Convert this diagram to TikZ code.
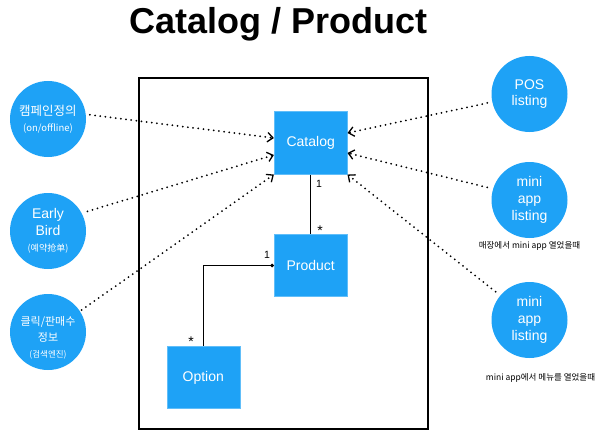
\documentclass[tikz,border=0pt]{standalone}
\usepackage{fontspec}
\setmainfont{Liberation Sans}
\newfontfamily\kr{Noto Sans CJK KR}
\usetikzlibrary{arrows.meta,calc}
\definecolor{fillblue}{RGB}{30,162,246}
\newcommand\fsz[2]{\fontsize{#1}{#2}\selectfont}
\begin{document}
\begin{tikzpicture}[x=1pt,y=-1pt,
  box/.style={draw=fillblue!70!white, line width=0.6pt, fill=fillblue, minimum width=73pt, minimum height=62.5pt, inner sep=0pt, text=white, font=\fsz{14}{17}},
  circ/.style={circle, fill=fillblue, minimum size=76pt, inner sep=0pt, text=white, align=center},
  dep/.style={line width=2pt, dash pattern=on 0pt off 5.2pt, line cap=round,
    -{Straight Barb[line width=1.3pt, length=5.5pt, width=9.5pt, sep=0pt]}},
  assoc/.style={line width=1pt, black},
  mult/.style={font=\fsz{10.5}{11}, inner sep=0pt},
  star/.style={font=\fsz{14}{14}, inner sep=0pt},
  caption/.style={font=\kr\fsz{8.5}{10}, inner sep=0pt}
]
\useasboundingbox (0,0) rectangle (600,436);

% title
\node[font=\bfseries\fsz{36}{40}] (title) at (278.5,24) {Catalog / Product};

% frame
\node[draw, line width=2pt, minimum width=288.4pt, minimum height=350.7pt, inner sep=0pt] (frame) at (283.5,253.65) {};

% classes
\node[box] (cat) at (310.7,143) {Catalog};
\node[box] (prod) at (310.7,265.5) {Product};
\node[box] (opt) at (203.3,377.5) {Option};

% associations
\draw[assoc] (cat.south) -- (prod.north);
\draw[assoc, -{Circle[length=3.5pt]}] (opt.north) |- (prod.west);
\node[mult] (m1) at (319,184) {1};
\node[star] (m2) at (320,231) {*};
\node[mult] (m3) at (267,255) {1};
\node[star] (m4) at (191,342) {*};

% left sources
\node[circ, font=\kr\fsz{12.5}{17}] (c1) at (48,119)
  {캠페인정의\\[-1pt]{\fsz{9.5}{12}(on/offline)}};
\node[circ, font=\fsz{14}{16.5}] (c2) at (48,231)
  {Early\\Bird\\{\kr\fsz{9}{12}(예약抢单)}};
\node[circ] (c3) at (48,332) {};
\node[align=center, text=white, font=\kr\fsz{11}{16}, inner sep=0pt] (c3t) at (48,338)
  {클릭/판매수\\정보\\{\fsz{8.5}{12}(검색엔진)}};

% right sources
\node[circ, font=\fsz{14}{16.5}] (p1) at (529.5,94) {POS\\listing};
\node[circ, font=\fsz{14}{17}] (p2) at (529.5,200) {mini\\app\\listing};
\node[circ, font=\fsz{14}{17}] (p3) at (529.5,320) {mini\\app\\listing};
\node[caption] (cap2) at (529.5,246) {매장에서 mini app 열었을때};
\node[caption] (cap3) at (540.5,378) {mini app에서 메뉴를 열었을때};

% dependencies
\draw[dep, shorten <=4pt] (c1.7) -- ([yshift=5pt]cat.west);
\draw[dep, shorten <=6pt] (c2.28) -- ([yshift=-12pt]cat.west);
\draw[dep, shorten <=2pt] (c3.33) -- (cat.south west);
\draw[dep, shorten <=5pt] (p1.192) -- ([yshift=10pt]cat.east);
\draw[dep, shorten <=6pt] (p2.163) -- ([yshift=-10pt]cat.east);
\draw[dep, shorten <=6pt] (p3.140) -- (cat.south east);
\end{tikzpicture}
\end{document}
